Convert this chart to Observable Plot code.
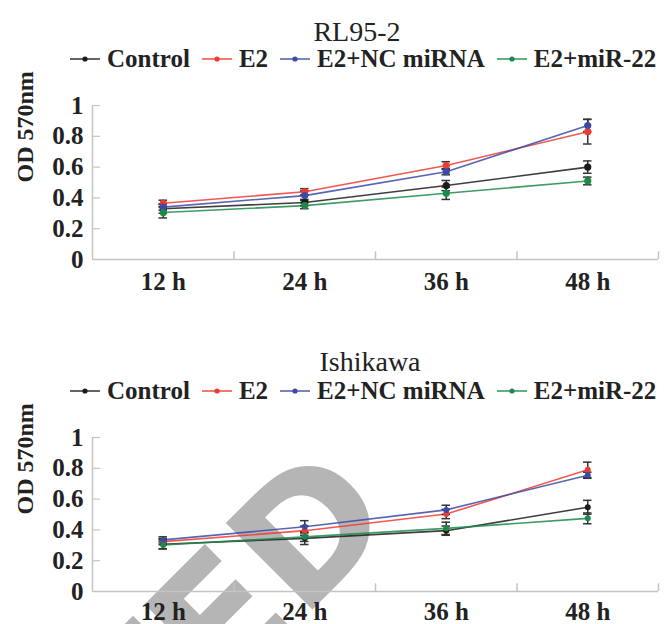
<!DOCTYPE html>
<html><head><meta charset="utf-8">
<script src="https://cdn.jsdelivr.net/npm/d3@7"></script>
<script src="https://cdn.jsdelivr.net/npm/@observablehq/plot@0.6"></script>
<style>
body{margin:0;background:#fff;}
#wrap{position:relative;width:667px;height:624px;overflow:hidden;font-family:"Liberation Serif","Times New Roman",serif;color:#222;}
.title{position:absolute;font-size:28px;line-height:28px;white-space:nowrap;transform:translateX(-50%);}
.legend{position:absolute;left:70px;display:flex;align-items:center;font-size:25px;font-weight:bold;line-height:25px;white-space:nowrap;}
.item{display:flex;align-items:center;margin-right:12px;}
.item svg{margin-right:7px;display:block;}
.panel{position:absolute;left:0;}
.wm{position:absolute;left:0;top:0;}
</style></head><body><div id="wrap"></div>
<script>
const timeLabels = ["12 h","24 h","36 h","48 h"];
const seriesNames = ["Control","E2","E2+NC miRNA","E2+miR-22"];
const seriesColors = ["#1c1c1c","#ee3b30","#3a4aa6","#1d8a4a"];
const yTicks = [0,0.2,0.4,0.6,0.8,1];
const yTickLabels = ["0","0.2","0.4","0.6","0.8","1"];
const panelTitles = ["RL95-2","Ishikawa"];
const yLabel = "OD 570nm";
// RL95-2
const rlControl = [0.33,0.37,0.48,0.60];
const rlE2 = [0.365,0.44,0.61,0.83];
const rlNC = [0.34,0.415,0.57,0.87];
const rlMir = [0.305,0.35,0.43,0.51];
const rlControlErr = [0.03,0.02,0.033,0.04];
const rlE2Err = [0.02,0.02,0.025,0.08];
const rlNCErr = [0.02,0.03,0.02,0.04];
const rlMirErr = [0.035,0.02,0.04,0.025];
// Ishikawa
const ishControl = [0.307,0.345,0.395,0.547];
const ishE2 = [0.324,0.395,0.503,0.79];
const ishNC = [0.335,0.42,0.53,0.755];
const ishMir = [0.302,0.355,0.41,0.475];
const ishControlErr = [0.03,0.04,0.03,0.045];
const ishE2Err = [0.02,0.03,0.03,0.05];
const ishNCErr = [0.02,0.04,0.03,0.02];
const ishMirErr = [0.025,0.03,0.04,0.035];

const wrap = document.getElementById("wrap");

// watermark (behind)
wrap.insertAdjacentHTML("beforeend",
 `<svg class="wm" width="667" height="624"><text x="400" y="522" text-anchor="end" transform="rotate(-45 400 522)" font-family="DejaVu Sans" font-weight="bold" font-size="168" fill="#b5b5b5">RETRACTED</text></svg>`);

function addTitle(text, cx, top) {
  const d = document.createElement("div");
  d.className = "title"; d.textContent = text;
  d.style.left = cx + "px"; d.style.top = top + "px";
  wrap.appendChild(d);
}
function addLegend(top) {
  const d = document.createElement("div");
  d.className = "legend"; d.style.top = top + "px";
  seriesNames.forEach((s, k) => {
    const it = document.createElement("div");
    it.className = "item";
    it.innerHTML = `<svg width="30" height="12"><line x1="0" y1="6" x2="30" y2="6" stroke="${seriesColors[k]}" stroke-width="1.6" opacity="0.85"/><circle cx="15" cy="6" r="2.6" fill="${seriesColors[k]}"/></svg><span>${s}</span>`;
    d.appendChild(it);
  });
  wrap.appendChild(d);
}
function addPanel(values, errs, r, top, height, marginBottom, xPad) {
  const rows = [];
  seriesNames.forEach((s, k) => values[k].forEach((v, i) => rows.push({series: s, t: i + 0.5, v, err: errs[k][i]})));
  const axisColor = "#c4c4c4";
  const chart = Plot.plot({
    width: 667, height, marginLeft: 92, marginRight: 9, marginTop: 20, marginBottom,
    x: {domain: [0, 4], label: null},
    y: {domain: [0, 1], label: null},
    color: {domain: seriesNames, range: seriesColors},
    style: {fontFamily: '"Liberation Serif","Times New Roman",serif', fontSize: "25px", fontWeight: "bold", background: "transparent", color: "#222", overflow: "visible"},
    marks: [
      Plot.ruleX([0], {y1: 0, y2: 1, stroke: axisColor, strokeWidth: 1.5}),
      Plot.ruleY([0], {x1: 0, x2: 4, stroke: axisColor, strokeWidth: 1.5}),
      Plot.ruleX([1, 2, 3, 4], {y1: 0, y2: 0.05, stroke: axisColor, strokeWidth: 1.5}),
      Plot.ruleY(yTicks.slice(1), {x1: 0, x2: 0.057, stroke: axisColor, strokeWidth: 1.2}),
      Plot.axisY({ticks: yTicks, tickFormat: d => yTickLabels[yTicks.indexOf(d)], tickSize: 0, tickPadding: 9, label: null}),
      Plot.text([yLabel], {frameAnchor: "left", rotate: -90, dx: -67, fontSize: 24, fontWeight: "bold", fill: "#222"}),
      Plot.axisX({ticks: timeLabels.map((d, i) => i + 0.5), tickFormat: d => timeLabels[Math.floor(d)], tickSize: 0, tickPadding: xPad, label: null}),
      Plot.line(rows, {x: "t", y: "v", z: "series", stroke: "series", strokeWidth: 1.6, strokeOpacity: 0.85}),
      Plot.ruleX(rows, {x: "t", y1: d => d.v - d.err, y2: d => d.v + d.err, stroke: "#333", strokeWidth: 1.5}),
      Plot.ruleY(rows, {y: d => d.v + d.err, x1: d => d.t - 0.03, x2: d => d.t + 0.03, stroke: "#333", strokeWidth: 1.5}),
      Plot.ruleY(rows, {y: d => d.v - d.err, x1: d => d.t - 0.03, x2: d => d.t + 0.03, stroke: "#333", strokeWidth: 1.5}),
      Plot.dot(rows, {x: "t", y: "v", fill: "series", r})
    ]
  });
  chart.classList.add("panel");
  chart.style.top = top + "px";
  wrap.appendChild(chart);
}

addTitle(panelTitles[0], 357, 18);
addLegend(46);
addPanel([rlControl, rlE2, rlNC, rlMir], [rlControlErr, rlE2Err, rlNCErr, rlMirErr], 3.6, 85, 225, 51, 13);
addTitle(panelTitles[1], 370, 348);
addLegend(378);
addPanel([ishControl, ishE2, ishNC, ishMir], [ishControlErr, ishE2Err, ishNCErr, ishMirErr], 3, 417, 207, 33, 11);
</script></body></html>
